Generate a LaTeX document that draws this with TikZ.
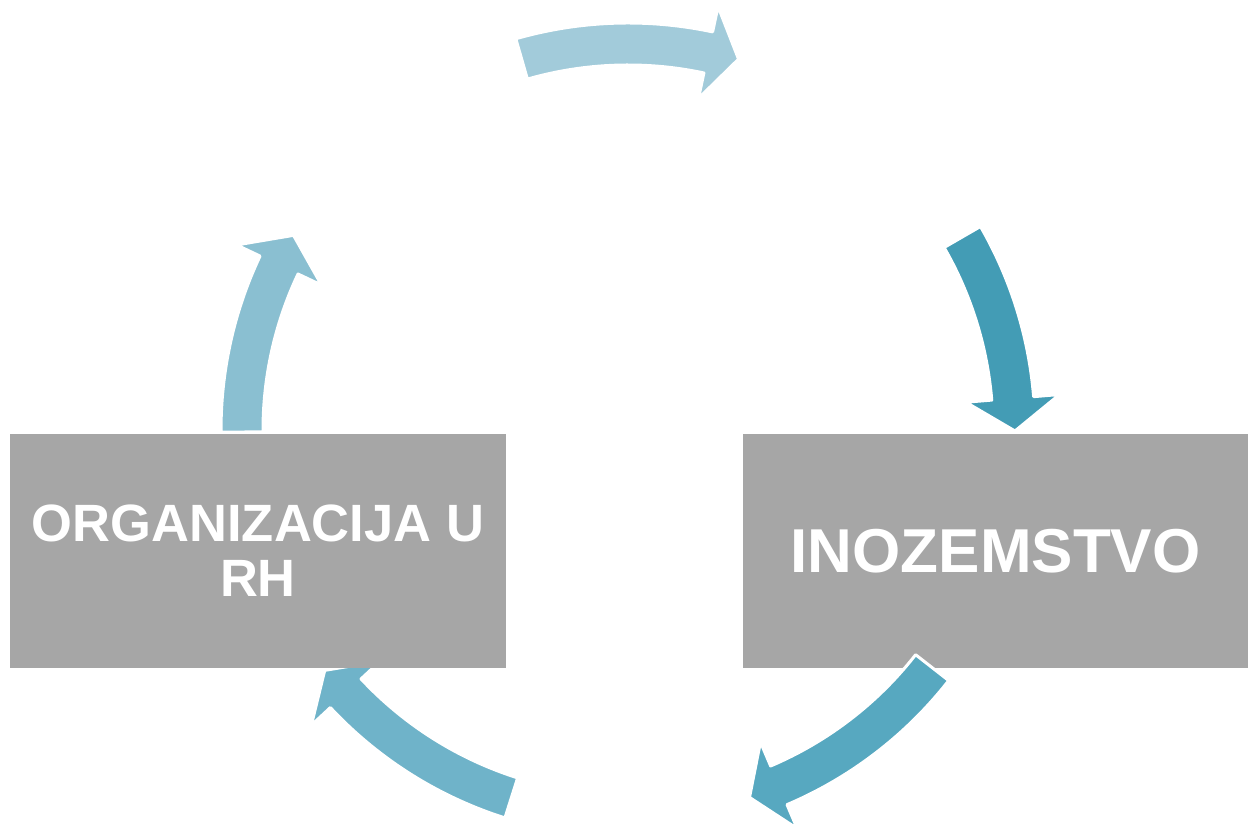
\documentclass[tikz,border=0pt]{standalone}
\usepackage{fontspec}
\setmainfont{Liberation Sans}
\definecolor{boxgray}{HTML}{A6A6A6}
\definecolor{arrA}{HTML}{A2CBDA}
\definecolor{arrB}{HTML}{439CB5}
\definecolor{arrC}{HTML}{57A8C0}
\definecolor{arrD}{HTML}{6FB3C9}
\definecolor{arrE}{HTML}{8ABFD1}
% #1 colour, #2 start angle, #3 head base angle, #4 tip angle
\newcommand\cycarrow[4]{%
  \path[carrow=#1, shift={(628pt,397pt)}]
    (#2:407pt) arc[start angle=#2, end angle=#3, radius=407pt]
    -- (#3:433pt) -- (#4:387pt) -- (#3:339pt) -- (#3:365pt)
    arc[start angle=#3, end angle=#2, radius=365pt] -- cycle;}
\begin{document}
\begin{tikzpicture}[x=1pt,y=1pt,
  carrow/.style={fill=#1, draw=white, line width=3pt, line join=round},
  box/.style={fill=boxgray, draw=none, inner sep=0pt, minimum height=234pt,
    text=white, align=center}]
\useasboundingbox (0,0) rectangle (1248,827);
% arrow hidden partly under left box
\cycarrow{arrD}{-107.6}{-137}{-141.6}
% boxes
\node[box, minimum width=496pt, font=\fontsize{52.5}{55}\selectfont\bfseries]
  (rh) at (258,276) {ORGANIZACIJA U\\RH};
\node[box, minimum width=505pt, font=\fontsize{62}{64}\selectfont\bfseries]
  (ino) at (995.5,276) {INOZEMSTVO};
% remaining arrows
\cycarrow{arrA}{106}{78}{73.4}
\cycarrow{arrB}{30}{4.7}{-0.15}
\cycarrow{arrC}{-38}{-67}{-71.7}
\cycarrow{arrE}{180.3}{154.7}{149.8}
\end{tikzpicture}
\end{document}
